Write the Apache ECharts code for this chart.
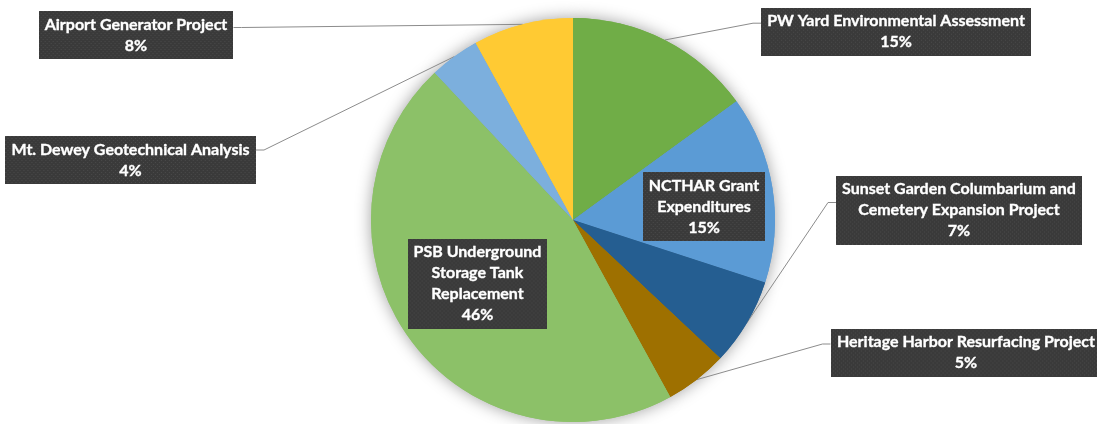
<!DOCTYPE html>
<html>
<head>
<meta charset="utf-8">
<script src="https://cdn.jsdelivr.net/npm/echarts@6/dist/echarts.min.js"></script>
<style>
  html, body { margin: 0; padding: 0; background: #ffffff; }
  #chart { width: 1097px; height: 424px; }
</style>
</head>
<body>
<div id="chart"></div>
<script>
// Project share of total spending, clockwise from 12 o'clock
const projects = [
  'PW Yard Environmental Assessment',
  'NCTHAR Grant\nExpenditures',
  'Sunset Garden Columbarium and\nCemetery Expansion Project',
  'Heritage Harbor Resurfacing Project',
  'PSB Underground\nStorage Tank\nReplacement',
  'Mt. Dewey Geotechnical Analysis',
  'Airport Generator Project'
];
const shares = [15, 15, 7, 5, 46, 4, 8];
const sliceColors = ['#70AD47', '#5B9BD5', '#255E91', '#9E7000', '#8CC168', '#7CAFDD', '#FFCA33'];

// Callout placement: box centre, which side the leader line leaves from,
// and the vertical offset of the attachment point from the box centre.
const callouts = [
  { cx: 896,   cy: 31.7,  side: 'left',  dy: -8.5 },
  { cx: 704,   cy: 206.5, side: null },
  { cx: 959,   cy: 210,   side: 'left',  dy: -7.5 },
  { cx: 966,   cy: 352.5, side: 'left',  dy: -8.5 },
  { cx: 477.5, cy: 283.5, side: null },
  { cx: 130.5, cy: 160,   side: 'right', dy: -10 },
  { cx: 136,   cy: 35,    side: 'right', dy: -7.5 }
];

const FONT_SIZE = 16;
const LINE_H = 21;
const PAD = [3, 6];
const FONT = 'bold ' + FONT_SIZE + 'px Lato';

function labelText(i) {
  return projects[i] + '\n' + shares[i] + '%';
}

// Dark dotted texture, sized to each callout box so it is drawn unstretched
const boxWidths = [];
function makeBoxImage(i) {
  const text = labelText(i);
  const m = document.createElement('canvas').getContext('2d');
  m.font = FONT;
  const lines = text.split('\n');
  let w = 0;
  lines.forEach(l => { w = Math.max(w, m.measureText(l).width); });
  const bw = Math.ceil(w + PAD[1] * 2);
  const bh = lines.length * LINE_H + PAD[0] * 2;
  boxWidths[i] = bw;
  const c = document.createElement('canvas');
  c.width = bw; c.height = bh;
  const g = c.getContext('2d');
  g.fillStyle = '#3a3a3a';
  g.fillRect(0, 0, bw, bh);
  g.fillStyle = '#4b4b4b';
  for (let y = 0; y < bh; y += 2) {
    for (let x = (y % 4 === 0 ? 0 : 2); x < bw; x += 4) {
      g.fillRect(x, y, 1, 1);
    }
  }
  return c;
}

const pieData = projects.map((name, i) => ({
  name: name,
  value: shares[i],
  itemStyle: { color: sliceColors[i] },
  label: { backgroundColor: { image: makeBoxImage(i) } },
  labelLine: { show: callouts[i].side !== null }
}));

const chart = echarts.init(document.getElementById('chart'), null, { renderer: 'canvas' });

chart.setOption({
  animation: false,
  backgroundColor: '#ffffff',
  series: [
    {
      // soft drop shadow under the whole pie
      type: 'pie',
      silent: true,
      z: 1,
      center: [573, 220],
      radius: 202,
      startAngle: 90,
      clockwise: true,
      data: projects.map((name, i) => ({ name: name, value: shares[i], itemStyle: { color: sliceColors[i] } })),
      itemStyle: { shadowBlur: 16, shadowColor: 'rgba(0,0,0,0.38)', borderWidth: 0 },
      label: { show: false },
      labelLine: { show: false },
      emphasis: { disabled: true }
    },
    {
      type: 'pie',
      z: 2,
      center: [573, 220],
      radius: 202,
      startAngle: 90,
      clockwise: true,
      avoidLabelOverlap: false,
      silent: true,
      data: pieData,
      itemStyle: { borderWidth: 0 },
      emphasis: { disabled: true },
      label: {
        show: true,
        position: 'outside',
        formatter: p => labelText(p.dataIndex),
        color: '#ffffff',
        fontFamily: 'Lato',
        fontWeight: 'bold',
        fontSize: FONT_SIZE,
        lineHeight: LINE_H,
        textBorderColor: '#ffffff',
        textBorderWidth: 0.35,
        align: 'center',
        padding: PAD,
        shadowColor: 'rgba(0,0,0,0.45)',
        shadowBlur: 4,
        shadowOffsetX: 2,
        shadowOffsetY: 2
      },
      labelLine: {
        show: true,
        length: 10,
        length2: 10,
        lineStyle: { color: '#8c8c8c', width: 1 }
      },
      labelLayout: function (params) {
        const i = params.dataIndex;
        const c = callouts[i];
        const w = boxWidths[i];
        const out = { x: c.cx, y: c.cy, align: 'center', verticalAlign: 'middle' };
        if (c.side && params.labelLinePoints) {
          const edge = params.labelLinePoints[0];
          const y = c.cy + c.dy;
          const attachX = c.side === 'left' ? c.cx - w / 2 : c.cx + w / 2;
          const elbowX = c.side === 'left' ? attachX - 8 : attachX + 8;
          out.labelLinePoints = [[edge[0], edge[1]], [elbowX, y], [attachX, y]];
        }
        return out;
      }
    }
  ]
});
</script>
</body>
</html>
